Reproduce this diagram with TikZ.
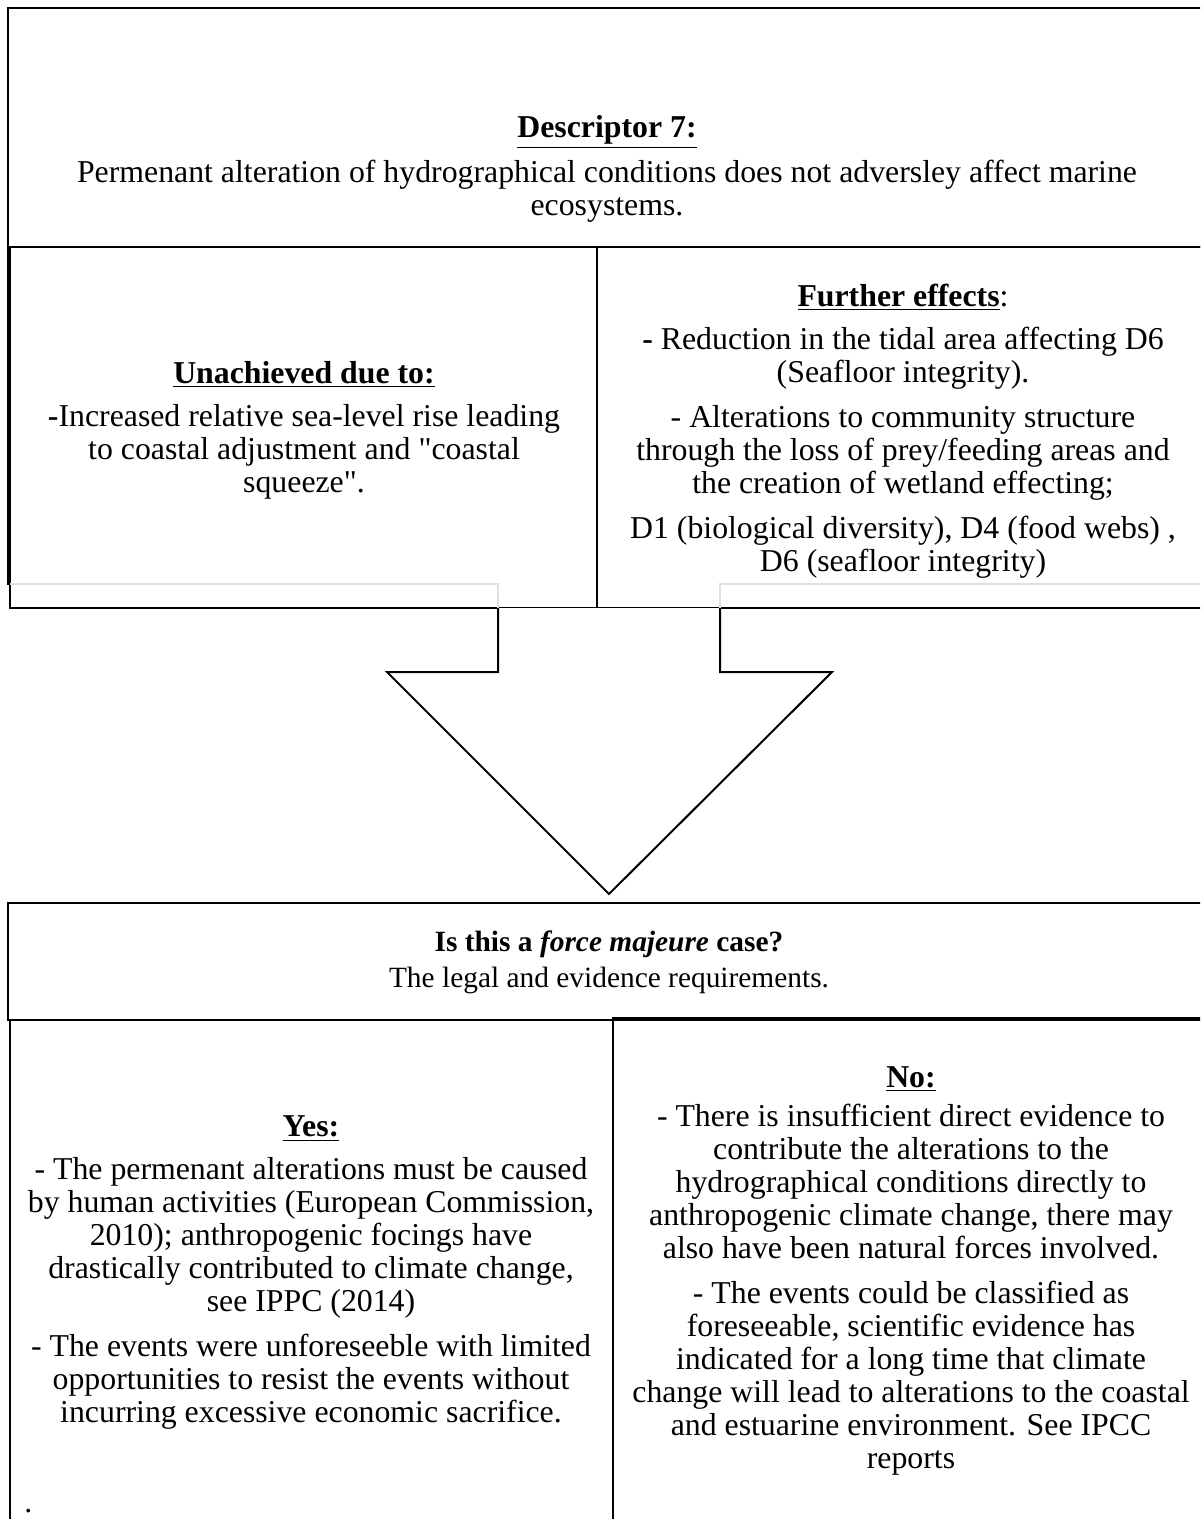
\documentclass[tikz,border=0pt]{standalone}
\usepackage{fontspec}
\setmainfont{Liberation Serif}
\tikzset{
  frame/.style={draw=black, line width=1pt},
  heavyedge/.style={draw=black, line width=2pt},
  ghost/.style={draw=black!12, line width=1pt},
  blockarrow/.style={draw=black, line width=1pt, line join=miter, fill=white},
  body/.style={align=center, inner sep=0pt, font=\fontsize{15.9}{16.5}\selectfont},
  smallbody/.style={align=center, inner sep=0pt, font=\fontsize{14.7}{16}\selectfont},
}
\newcommand{\hd}[1]{\textbf{\underline{#1}}}
% straight double quote, set as a glyph so the TeX ligature mapping leaves it alone
\newcommand{\dq}{\XeTeXglyph\XeTeXcharglyph"22\relax}
\begin{document}
\begin{tikzpicture}[x=0.5pt,y=-0.5pt]
\useasboundingbox (0,0) rectangle (1200,1519);
\clip (0,0) rectangle (1200,1519);

% upper panel: descriptor and its two sub-boxes
\draw[frame] (8,8) rectangle (1215,247);
\draw[frame] (10,247) rectangle (597,608);
\draw[heavyedge] (8.5,247) -- (8.5,585);
\draw[frame] (597,247) rectangle (1215,608);
\draw[ghost] (10,584) -- (498,584) -- (498,608);
\draw[ghost] (720,608) -- (720,584) -- (1215,584);

% block arrow pointing down to the question box
\coordinate (shaftL) at (498,608);
\coordinate (shaftR) at (720,608);
\coordinate (tip) at (609,894);
\draw[blockarrow] (shaftL) -- (498,672) -- (387,672) -- (tip) -- (832,672) -- (720,672) -- (shaftR);

% lower panel: question and the two answers
\draw[frame] (8,903) rectangle (1215,1020);
\draw[frame] (10,1020) rectangle (613,1530);
\draw[frame] (613,1018) rectangle (1215,1530);

\node[body] (d7) at (607,169) {\hd{Descriptor 7:}\\[5pt]
Permenant alteration of hydrographical conditions does not adversley affect marine\\
ecosystems.};

\node[body] (unach) at (304,430) {\hd{Unachieved due to:}\\[5pt]
\textbf{-}Increased relative sea-level rise leading\\
to coastal adjustment and \dq coastal\\
squeeze\dq.};

\node[body] (further) at (903,431) {\hd{Further effects}:\\[5pt]
\textbf{-} Reduction in the tidal area affecting D6\\
(Seafloor integrity).\\[6pt]
- Alterations to community structure\\
through the loss of prey/feeding areas and\\
the creation of wetland effecting;\\[6pt]
D1 (biological diversity), D4 (food webs) ,\\
D6 (seafloor integrity)};

\node[smallbody] (question) at (609,962) {\textbf{Is this a \textit{force majeure} case?}\\[2pt]
The legal and evidence requirements.};

\node[body] (yes) at (311,1273) {\hd{Yes:}\\[5pt]
- The permenant alterations must be caused\\
by human activities (European Commission,\\
2010); anthropogenic focings have\\
drastically contributed to climate change,\\
see IPPC (2014)\\[6pt]
- The events were unforeseeble with limited\\
opportunities to resist the events without\\
incurring excessive economic sacrifice.};

\node[body] (no) at (911,1271) {\hd{No:}\\[3pt]
- There is insufficient direct evidence to\\
contribute the alterations to the\\
hydrographical conditions directly to\\
anthropogenic climate change, there may\\
also have been natural forces involved.\\[6pt]
- The events could be classified as\\
foreseeable, scientific evidence has\\
indicated for a long time that climate\\
change will lead to alterations to the coastal\\
and estuarine environment. See IPCC\\
reports};

\node[body, anchor=base west] (dot) at (24,1512) {.};
\end{tikzpicture}
\end{document}
